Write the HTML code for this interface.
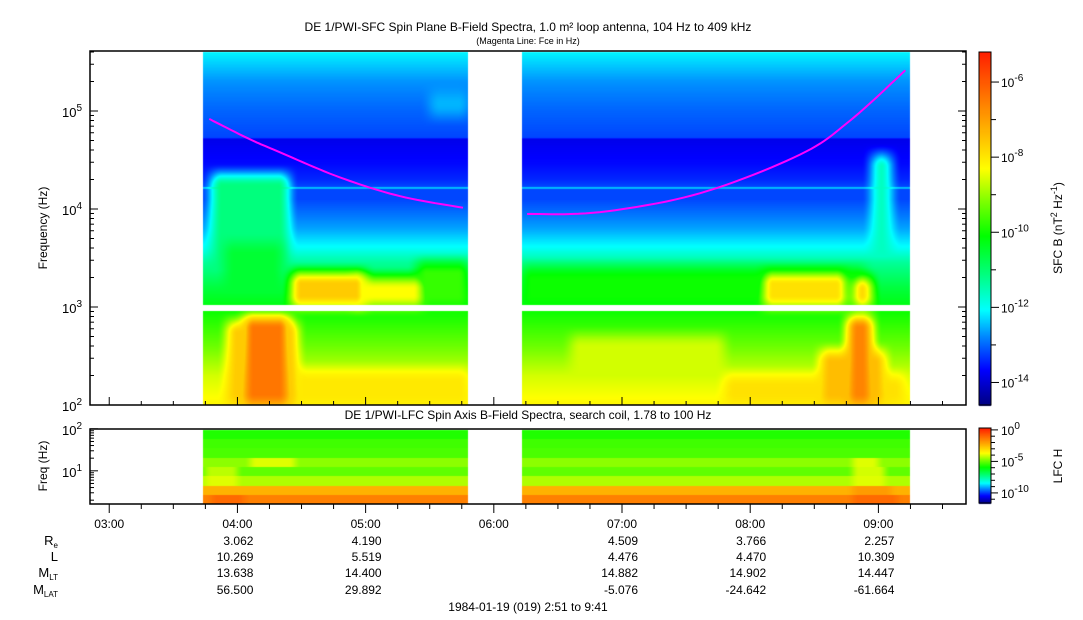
<!DOCTYPE html>
<html><head><meta charset="utf-8"><style>
html,body{margin:0;padding:0;background:#fff;width:1083px;height:620px;overflow:hidden}
#wrap{position:relative;width:1083px;height:620px}
canvas,svg{position:absolute;left:0;top:0}
text{font-family:"Liberation Sans",Arial,sans-serif;fill:#000}
</style></head><body>
<div id="wrap">
<canvas id="cv" width="1083" height="620"></canvas>
<svg id="sv" width="1083" height="620"></svg>
</div>
<script>
// ---- data ----
const segStart = [3.73, 6.22];
const segEnd = [5.80, 9.25];
const sfcFreqNodes = [2.0, 2.3, 2.6, 2.95, 3.0, 3.2, 3.45, 3.6, 3.8, 4.1, 4.2, 4.215, 4.23, 4.3, 4.45, 4.71, 4.73, 5.0, 5.3, 5.61];
const sfcBaseLevel = [-8.2, -8.6, -9.3, -10.0, -10.2, -10.6, -11.3, -12.0, -12.6, -13.2, -13.2, -12.1, -13.2, -13.4, -13.6, -13.8, -13.2, -13.0, -12.7, -12.1];
const evT0 = [3.80, 3.90, 4.05, 3.92, 4.42, 4.90, 5.40, 6.60, 8.10, 8.80, 8.76, 8.55, 8.95, 5.50, 7.80, 6.22, 4.45];
const evT1 = [4.40, 4.35, 4.40, 4.47, 5.00, 5.45, 5.80, 7.80, 8.75, 8.95, 8.95, 9.05, 9.10, 5.80, 9.20, 8.90, 5.80];
const evF0 = [3.00, 3.00, 2.00, 2.00, 3.00, 3.00, 3.00, 2.10, 3.00, 3.00, 2.00, 2.00, 3.00, 4.95, 2.00, 3.00, 2.00];
const evF1 = [4.35, 3.65, 2.90, 2.85, 3.35, 3.30, 3.45, 2.70, 3.35, 3.30, 2.90, 2.55, 4.55, 5.20, 2.30, 3.40, 2.35];
const evLevel = [-11.1, -10.5, -6.4, -7.6, -7.6, -8.3, -9.7, -8.6, -7.9, -7.8, -6.6, -7.4, -11.6, -12.5, -7.9, -10.0, -8.0];
const fceTimesA = [3.78, 4.09, 4.33, 4.80, 5.27, 5.76];
const fceFreqA = [83000, 52000, 38000, 21000, 13500, 10300];
const fceTimesB = [6.26, 6.83, 7.61, 8.39, 8.78, 9.21];
const fceFreqB = [8900, 9300, 14500, 36000, 80000, 260000];
const lfcRowLevel = [-5.6, -5.3, -5.2, -4.6, -5.0, -4.3, -2.3, -1.4];
const lfcEvRow = [3, 4, 5, 3, 4, 5, 7, 7, 6];
const lfcEvT0 = [4.10, 3.75, 3.75, 8.80, 8.80, 8.80, 3.80, 8.80, 8.80];
const lfcEvT1 = [4.45, 4.00, 4.00, 9.00, 9.05, 9.05, 4.05, 9.15, 9.10];
const lfcEvLevel = [-3.9, -4.2, -3.9, -3.9, -4.0, -3.9, -1.0, -1.0, -1.9];
const timeTicks = ["03:00","04:00","05:00","06:00","07:00","08:00","09:00"];
const timeTickHours = [3,4,5,6,7,8,9];
const ephemHours = [4,5,7,8,9];
const ephemRe = ["3.062","4.190","4.509","3.766","2.257"];
const ephemL = ["10.269","5.519","4.476","4.470","10.309"];
const ephemMLT = ["13.638","14.400","14.882","14.902","14.447"];
const ephemMLAT = ["56.500","29.892","-5.076","-24.642","-61.664"];

// ---- geometry ----
const X0=90, X1=966, T0=2+51/60, T1=9+41/60;
const xT = h => X0 + (h-T0)/(T1-T0)*(X1-X0);
const tX = x => T0 + (x-X0)/(X1-X0)*(T1-T0);
const Y0=405, YT=51, PPD=98;
const yF = lf => Y0 - (lf-2)*PPD;
const fY = y => 2 + (Y0-y)/PPD;
const LY0=504, LYT=429, LPPD=42;
const yLF = lf => LY0 - (lf-0.21)*LPPD;

const stops=[[0,[0,0,128]],[0.10,[0,0,255]],[0.19,[0,128,255]],[0.27,[0,255,255]],[0.37,[0,255,128]],[0.48,[0,255,0]],[0.58,[128,255,0]],[0.67,[255,255,0]],[0.80,[255,165,0]],[0.90,[255,100,0]],[1.0,[255,30,0]]];
function cmap(u){u=Math.max(0,Math.min(1,u));for(let i=1;i<stops.length;i++){if(u<=stops[i][0]){const a=stops[i-1],b=stops[i];const f=(u-a[0])/(b[0]-a[0]);return [0,1,2].map(k=>Math.round(a[1][k]+(b[1][k]-a[1][k])*f));}}return stops[stops.length-1][1];}
const sm=(e0,e1,v)=>{let t=Math.max(0,Math.min(1,(v-e0)/(e1-e0)));return t*t*(3-2*t);};
function boxW(t,f,a0,a1,b0,b1,mt,mf){return sm(a0-mt,a0+mt,t)*(1-sm(a1-mt,a1+mt,t))*sm(b0-mf,b0+mf,f)*(1-sm(b1-mf,b1+mf,f));}
function base(lf){const upper=lf>=2.975;const n=sfcFreqNodes;let i0=upper?4:0,i1=upper?n.length-1:3;
 if(lf<=n[i0])return sfcBaseLevel[i0]; if(lf>=n[i1])return sfcBaseLevel[i1];
 for(let i=i0;i<i1;i++){if(lf<=n[i+1]){const f=(lf-n[i])/(n[i+1]-n[i]);return sfcBaseLevel[i]+(sfcBaseLevel[i+1]-sfcBaseLevel[i])*f;}}}
function sfc(t,lf){let v=base(lf);for(let k=0;k<evLevel.length;k++){const w=boxW(t,lf,evT0[k],evT1[k],evF0[k],evF1[k],0.08,0.12);if(evLevel[k]>v)v=v+(evLevel[k]-v)*w;}return v;}
function inSeg(t){for(let s=0;s<2;s++)if(t>=segStart[s]&&t<=segEnd[s])return true;return false;}

const cv=document.getElementById('cv');const ctx=cv.getContext('2d');
const img=ctx.createImageData(1083,620);
function put(x,y,c){const i=(y*1083+x)*4;img.data[i]=c[0];img.data[i+1]=c[1];img.data[i+2]=c[2];img.data[i+3]=255;}
for(let x=X0+1;x<X1;x++){const t=tX(x+0.5);if(!inSeg(t))continue;
 for(let y=YT+1;y<Y0;y++){const lf=fY(y+0.5);if(lf>2.955&&lf<3.02)continue;
  const v=sfc(t,lf);put(x,y,cmap((v+14.6)/9.4));}
 for(let y=LYT+1;y<LY0;y++){const r=Math.min(7,Math.floor((y-LYT)/((LY0-LYT)/8)));let v=lfcRowLevel[r];
  for(let k=0;k<lfcEvRow.length;k++){if(lfcEvRow[k]!==r)continue;const w=sm(lfcEvT0[k]-0.05,lfcEvT0[k]+0.05,t)*(1-sm(lfcEvT1[k]-0.05,lfcEvT1[k]+0.05,t));if(lfcEvLevel[k]>v)v=v+(lfcEvLevel[k]-v)*w;}
  put(x,y,cmap((v+11.6)/11.9));}}
for(let y=52;y<406;y++){const c=cmap((405-y)/353);for(let x=979;x<991;x++)put(x,y,c);}
for(let y=428;y<504;y++){const c=cmap((503-y)/75);for(let x=979;x<991;x++)put(x,y,c);}
ctx.putImageData(img,0,0);

// ---- svg ----
const NS="http://www.w3.org/2000/svg";const sv=document.getElementById('sv');
function el(tag,attrs,parent){const e=document.createElementNS(NS,tag);for(const k in attrs)e.setAttribute(k,attrs[k]);(parent||sv).appendChild(e);return e;}
function txt(x,y,s,size,anchor,name){const e=el('text',{x:x,y:y,'font-size':size,'text-anchor':anchor||'middle'});e.textContent=s;


return e;}
[[fceTimesA,fceFreqA],[fceTimesB,fceFreqB]].forEach(d=>{const T=d[0],L=d[1].map(v=>Math.log10(v));const n=T.length;let p='';
 const g=(a,i)=>a[Math.max(0,Math.min(n-1,i))];
 for(let i=0;i<n-1;i++){for(let j=0;j<=12;j++){const s=j/12;
  const cr=a=>{const p0=g(a,i-1),p1=g(a,i),p2=g(a,i+1),p3=g(a,i+2);return 0.5*((2*p1)+(-p0+p2)*s+(2*p0-5*p1+4*p2-p3)*s*s+(-p0+3*p1-3*p2+p3)*s*s*s);};
  p+=(p?'L':'M')+xT(cr(T)).toFixed(1)+','+yF(cr(L)).toFixed(1);}}
 const e=el('path',{d:p,fill:'none',stroke:'#ff00ff','stroke-width':2});
 
 
});
const f1=el('rect',{x:X0,y:YT,width:X1-X0,height:Y0-YT,fill:'none',stroke:'#000','stroke-width':1.5});


const f2=el('rect',{x:X0,y:LYT,width:X1-X0,height:LY0-LYT,fill:'none',stroke:'#000','stroke-width':1.5});


for(let d=2;d<=5;d++){for(let m=1;m<10;m++){const lf=d+Math.log10(m);if(lf>5.612)break;const y=yF(lf);const L=m==1?8:4;
 el('line',{x1:X0,x2:X0+L,y1:y,y2:y,stroke:'#000'});el('line',{x1:X1,x2:X1-L,y1:y,y2:y,stroke:'#000'});}
 const t=txt(X0-18,yF(d)+6,'10',13,'middle','y-tick-label');const s=el('tspan',{dy:-6,'font-size':10},t);s.textContent=d;}
for(let d=0;d<=2;d++){for(let m=1;m<10;m++){const lf=d+Math.log10(m);if(lf<0.21||lf>2.001)continue;const y=yLF(lf);const L=m==1?8:4;
 el('line',{x1:X0,x2:X0+L,y1:y,y2:y,stroke:'#000'});}}
[1,2].forEach(d=>{const t=txt(X0-18,yLF(d)+6,'10',13,'middle','lfc-y-tick-label');const s=el('tspan',{dy:-6,'font-size':10},t);s.textContent=d;});
for(let h=3;h<=9.5;h+=0.25){const x=xT(h);const maj=Math.abs(h-Math.round(h))<1e-6;
 el('line',{x1:x,x2:x,y1:LY0,y2:LY0+(maj?9:5),stroke:'#000'});el('line',{x1:x,x2:x,y1:Y0,y2:Y0-(maj?8:4),stroke:'#000'});}
timeTickHours.forEach((h,i)=>txt(xT(h),528,timeTicks[i],12,'middle','x-tick-label'));
const rowsY=[545,561,577,594];
[ephemRe,ephemL,ephemMLT,ephemMLAT].forEach((arr,r)=>arr.forEach((v,i)=>txt(xT(ephemHours[i])+16,rowsY[r],v,12,'end','ephemeris-value')));
function lab(y,main,sub,subSize){const t=txt(58,y,main,13,'end','ephemeris-row-label');if(sub){const s=el('tspan',{dy:3,'font-size':subSize||8},t);s.textContent=sub;}}
lab(545,'R','e');lab(561,'L');lab(577,'M','LT');lab(594,'M','LAT');
txt(528,611,'1984-01-19 (019) 2:51 to 9:41',12,'middle','date-range-label');
txt(528,31,'DE 1/PWI-SFC  Spin Plane B-Field Spectra, 1.0 m\u00b2 loop antenna, 104 Hz to 409 kHz',12,'middle','sfc-title');
txt(528,44,'(Magenta Line: Fce in Hz)',9,'middle','sfc-subtitle');
txt(528,419,'DE 1/PWI-LFC  Spin Axis B-Field Spectra, search coil, 1.78 to 100 Hz',12,'middle','lfc-title');
const yt=txt(47,228,'Frequency (Hz)',12,'middle','sfc-y-axis-title');yt.setAttribute('transform','rotate(-90 47 228)');
const yt2=txt(47,466,'Freq (Hz)',12,'middle','lfc-y-axis-title');yt2.setAttribute('transform','rotate(-90 47 466)');
const cb1=el('rect',{x:979,y:52,width:12,height:353,fill:'none',stroke:'#000','stroke-width':1});


const cb2=el('rect',{x:979,y:428,width:12,height:75,fill:'none',stroke:'#000','stroke-width':1});


for(let e=-14;e<=-6;e++){const y=405-(e+14.6)*353/9.4;el('line',{x1:991,x2:e%2==0?999:996,y1:y,y2:y,stroke:'#000'});
 if(e%2==0){const t=txt(1001,y+5,'10',12,'start','sfc-colorbar-tick');const s=el('tspan',{dy:-6,'font-size':10},t);s.textContent=e;}}
for(let e=-11;e<=0;e++){const y=503-(e+11.6)*75/11.9;el('line',{x1:991,x2:e%5==0?998:995,y1:y,y2:y,stroke:'#000'});
 if(e%5==0){const t=txt(1001,y+5,'10',12,'start','lfc-colorbar-tick');const s=el('tspan',{dy:-6,'font-size':10},t);s.textContent=e;}}
const ct=txt(1062,228,'SFC B (nT',12,'middle','sfc-colorbar-title');
{const a=el('tspan',{dy:-5,'font-size':9},ct);a.textContent='2';const b=el('tspan',{dy:5},ct);b.textContent=' Hz';const c=el('tspan',{dy:-5,'font-size':9},ct);c.textContent='-1';const d=el('tspan',{dy:5},ct);d.textContent=')';}
ct.setAttribute('transform','rotate(-90 1062 228)');
const ct2=txt(1062,466,'LFC H',12,'middle','lfc-colorbar-title');ct2.setAttribute('transform','rotate(-90 1062 466)');
</script>
</body></html>
